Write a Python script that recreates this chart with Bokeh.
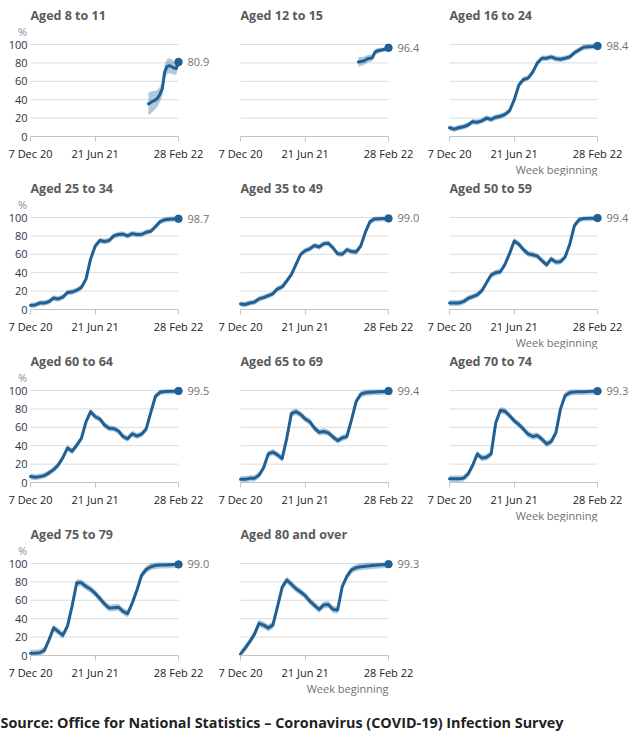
from bokeh.plotting import figure
from bokeh.models import FixedTicker, Label, Spacer, LinearAxis
from bokeh.layouts import column, row
from bokeh.embed import file_html
from bokeh.resources import INLINE

# ---------------- data ----------------
x_tick_weeks = [0, 28, 64]
x_tick_labels = ["7 Dec 20", "21 Jun 21", "28 Feb 22"]
y_ticks = [0, 20, 40, 60, 80, 100]

weeks_all = list(range(0, 65, 2))      # weeks since 7 Dec 20, every 2 weeks
weeks_kids = list(range(51, 65))       # weekly, children's series

age_8_11 = [35.5, 37, 38.5, 39.5, 42, 46, 52, 70, 76, 77, 76, 74.5, 74, 80.9]
band_8_11 = [12, 12, 11, 10, 9, 8, 8, 8, 8, 8, 8, 7, 7, 6]

age_12_15 = [81, 81.5, 82, 83, 84.5, 85, 85.5, 91, 93, 93.5, 94, 94.5, 95, 96.4]
band_12_15 = [5.5, 5, 4.5, 4.5, 4, 4, 3.5, 3.5, 3, 3, 2.5, 2.5, 2.5, 2]

age_16_24 = [9.5, 8, 9.5, 10.5, 12.5, 16, 15.5, 17, 20, 18.5, 21, 22, 24, 28, 40, 56,
             62, 63.5, 70, 80, 85, 85, 86.5, 84.5, 84, 85, 86.5, 91, 94, 97, 97.5, 97.8, 98.4]
age_25_34 = [4.5, 5, 7, 7, 8.5, 12.5, 11.5, 13.5, 18.5, 19, 21, 24, 33, 55, 69, 75,
             74, 75, 80, 81.5, 82, 80, 82.5, 81.5, 81.5, 84, 85, 90, 95.5, 97.5, 98, 98.3, 98.7]
age_35_49 = [6, 5.5, 7, 8, 11.5, 13, 15, 17, 22.5, 24.5, 31, 38, 49, 60, 64, 66,
             69.5, 68, 71.5, 72, 67, 60.5, 60, 65, 63, 62.5, 69, 84, 95.5, 98.5, 98.6, 98.8, 99.0]
age_50_59 = [7, 7, 7, 8.5, 12, 14, 16, 20.5, 29, 37.5, 40, 41, 49, 61, 74.5, 71,
             65, 60.5, 59.5, 58, 53, 48.5, 55, 51.5, 52, 57, 71, 91, 97.5, 99, 99.2, 99.3, 99.4]
age_60_64 = [6.5, 5.7, 6.4, 7.5, 10.5, 14, 19, 27, 37.5, 34, 40.5, 48, 66, 77, 71.5, 69,
             62.5, 59, 58.5, 56, 50, 47.5, 53, 50.5, 52.5, 58, 76, 93.5, 98, 99, 99.2, 99.3, 99.5]
age_65_69 = [3.5, 3.5, 4.5, 4.5, 8, 16, 31, 33, 30, 26, 48, 75, 77, 74, 69, 66,
             59, 54.5, 55.5, 54, 49.5, 45.5, 48.5, 50, 68, 88, 96, 97.5, 98.2, 98.5, 98.7, 99, 99.4]
age_70_74 = [4, 4, 4, 4.5, 9, 18.5, 31, 26.5, 27.5, 31, 65, 78.5, 77.5, 72.5, 67, 63,
             58, 52.5, 50, 51, 47, 42, 44.5, 54, 80, 94.5, 97.5, 98.5, 98.6, 98.7, 98.9, 99.1, 99.3]
age_75_79 = [2.5, 2.5, 3, 5.5, 17, 30, 26, 22, 32, 54, 79, 79, 75, 72, 67.5, 62,
             56, 51.5, 52, 52.5, 48, 45.5, 57, 71, 87, 93.5, 96.5, 97.8, 98.3, 98.5, 98.7, 98.9, 99.0]
age_80_plus = [1.5, 8, 15, 23, 35, 33, 30, 33, 53, 74, 82, 77.5, 72.5, 69, 65, 59,
               54.5, 50, 55, 55.5, 50, 49.5, 75, 86, 93, 95.5, 96.5, 97, 97.5, 98.2, 98.5, 98.8, 99.3]

titles = ["Aged 8 to 11", "Aged 12 to 15", "Aged 16 to 24", "Aged 25 to 34",
          "Aged 35 to 49", "Aged 50 to 59", "Aged 60 to 64", "Aged 65 to 69",
          "Aged 70 to 74", "Aged 75 to 79", "Aged 80 and over"]
band_adult = [3.0, 3.0, 3.0, 3.2, 3.2, 3.5, 3.5, 3.8, 3.8]

source_text = "Source: Office for National Statistics \u2013 Coronavirus (COVID-19) Infection Survey"
x_axis_title = "Week beginning"

# ---------------- styling / layout ----------------
BLUE = "#206095"
FONT = "Open Sans"
COL_W = [210, 209, 210]
ROW_H = [176, 173, 173, 176]
ZERO_Y = [136, 133, 133, 133]      # pixel row of value 0 inside each row's figure
LEFT0 = 30                          # pixel column of week 0 inside each figure
PXX = 148 / 64                      # pixels per week
PXY = 0.92                          # pixels per percentage point


def make_panel(title, xs, ys, hw, r, c, week_label):
    w, h = COL_W[c], ROW_H[r]
    x0 = -LEFT0 / PXX
    y0 = -(h - ZERO_Y[r]) / PXY
    p = figure(width=w, height=h, x_range=(x0, x0 + w / PXX), y_range=(y0, y0 + h / PXY),
               output_backend="svg", toolbar_location=None,
               x_axis_location=None, y_axis_location=None,
               min_border_left=0, min_border_right=0, min_border_top=0, min_border_bottom=0)
    p.outline_line_color = None
    p.background_fill_color = "white"
    p.border_fill_color = "white"
    p.xgrid.visible = False
    p.ygrid.visible = False

    # horizontal gridlines over the data span
    gy = y_ticks[1:]
    p.segment(x0=[x_tick_weeks[0]] * len(gy), x1=[x_tick_weeks[-1]] * len(gy),
              y0=gy, y1=gy, line_color="#dcdcdc", line_width=1)

    xa = LinearAxis(fixed_location=0, ticker=FixedTicker(ticks=x_tick_weeks))
    xa.major_label_overrides = {t: l for t, l in zip(x_tick_weeks, x_tick_labels)}
    xa.bounds = (x_tick_weeks[0], x_tick_weeks[-1])
    xa.axis_line_color = "#c4c4c4"
    xa.major_tick_line_color = "#c4c4c4"
    xa.major_tick_out = 5
    xa.major_tick_in = 0
    xa.minor_tick_line_color = None
    xa.major_label_text_font = FONT
    xa.major_label_text_font_size = "11px"
    xa.major_label_text_color = "#222222"
    xa.major_label_standoff = 4
    p.add_layout(xa, "below")

    if c == 0:
        ya = LinearAxis(fixed_location=0, ticker=FixedTicker(ticks=y_ticks))
        ya.bounds = (y_ticks[0], y_ticks[-1])
        ya.axis_line_color = None
        ya.major_tick_line_color = None
        ya.minor_tick_line_color = None
        ya.major_tick_out = 0
        ya.major_tick_in = 0
        ya.major_label_text_font = FONT
        ya.major_label_text_font_size = "11px"
        ya.major_label_text_color = "#333344"
        ya.major_label_standoff = 3
        p.add_layout(ya, "left")
        p.add_layout(Label(x=-8 / PXX, y=100 + 13.5 / PXY, text="%", text_font=FONT,
                           text_font_size="11px", text_color="#8c8c99",
                           text_baseline="middle", text_align="center"))

    if isinstance(hw, (int, float)):
        hw = [hw] * len(ys)
    lo = [max(v - e, 0) for v, e in zip(ys, hw)]
    hi = [min(v + e, 101) for v, e in zip(ys, hw)]
    p.varea(x=xs, y1=lo, y2=hi, fill_color=BLUE, fill_alpha=0.35)
    p.line(x=xs, y=ys, line_color=BLUE, line_width=3, line_join="round", line_cap="round")
    p.scatter(x=[xs[-1]], y=[ys[-1]], size=7.5, color=BLUE)

    p.add_layout(Label(x=xs[-1] + 9 / PXX, y=ys[-1], text=f"{ys[-1]:.1f}",
                       text_font=FONT, text_font_size="11px", text_color="#707071",
                       text_baseline="middle", text_align="left"))
    p.add_layout(Label(x=0, y=100 + 29.5 / PXY, text=title, text_font=FONT,
                       text_font_style="bold", text_font_size="12.5px",
                       text_color="#5a5a5c", text_baseline="middle", text_align="left"))
    if week_label:
        p.add_layout(Label(x=x_tick_weeks[-1], y=-33 / PXY, text=x_axis_title, text_font=FONT,
                           text_font_size="11px", text_color="#707071",
                           text_baseline="middle", text_align="right"))
    return p


adult_series = [age_16_24, age_25_34, age_35_49, age_50_59, age_60_64,
                age_65_69, age_70_74, age_75_79, age_80_plus]
series = [(weeks_kids, age_8_11, band_8_11), (weeks_kids, age_12_15, band_12_15)]
series += [(weeks_all, s, b) for s, b in zip(adult_series, band_adult)]

panels = []
for i, (title, (xs, ys, hw)) in enumerate(zip(titles, series)):
    r, c = divmod(i, 3)
    last_in_row = (c == 2) or (i == len(titles) - 1)
    panels.append(make_panel(title, xs, ys, hw, r, c, last_in_row))

rows = []
for r in range(4):
    items = panels[r * 3:(r + 1) * 3]
    while len(items) < 3:
        items.append(Spacer(width=COL_W[len(items)], height=ROW_H[r]))
    rows.append(row(*items, spacing=0))

SRC_H = 40
src = figure(width=sum(COL_W), height=SRC_H, x_range=(0, sum(COL_W)), y_range=(0, SRC_H),
             output_backend="svg", toolbar_location=None,
             x_axis_location=None, y_axis_location=None,
             min_border_left=0, min_border_right=0, min_border_top=0, min_border_bottom=0)
src.xgrid.visible = False
src.ygrid.visible = False
src.outline_line_color = None
src.add_layout(Label(x=0, y=SRC_H - 24, text=source_text, text_font=FONT,
                     text_font_style="bold", text_font_size="14.4px", text_color="#222222",
                     text_baseline="middle", text_align="left"))

layout = column(*rows, src, spacing=0)
open("out.html", "w").write(file_html(layout, INLINE))
